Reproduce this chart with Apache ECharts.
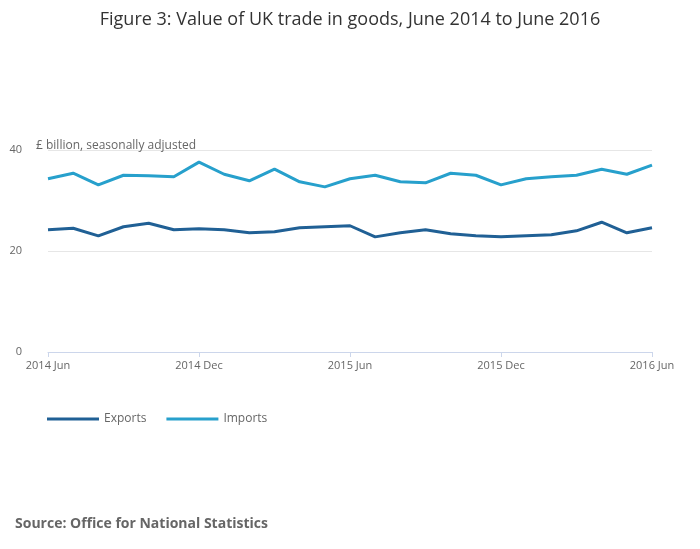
<!DOCTYPE html>
<html>
<head>
<meta charset="utf-8">
<script src="https://cdn.jsdelivr.net/npm/echarts@6/dist/echarts.min.js"></script>
<style>html,body{margin:0;background:#fff}#container{width:700px;height:549px}</style>
</head>
<body>
<div id="container"></div>
<script>
// months from June 2014 to June 2016
const months = ['2014 Jun','Jul','Aug','Sep','Oct','Nov','2014 Dec','Jan','Feb','Mar','Apr','May',
    '2015 Jun','Jul','Aug','Sep','Oct','Nov','2015 Dec','Jan','Feb','Mar','Apr','May','2016 Jun'];
const exportsData = [24.2,24.5,23.0,24.8,25.5,24.2,24.4,24.2,23.6,23.8,24.6,24.8,25.0,22.8,23.6,24.2,23.4,23.0,22.8,23.0,23.2,24.0,25.7,23.6,24.6];
const importsData = [34.3,35.4,33.1,35.0,34.9,34.7,37.6,35.2,33.9,36.2,33.7,32.7,34.3,35.0,33.7,33.5,35.4,35.0,33.1,34.3,34.7,35.0,36.2,35.2,37.0];

const chart = echarts.init(document.getElementById('container'));
const font = '"Open Sans", sans-serif';
chart.setOption({
    animation: false,
    textStyle: { fontFamily: font },
    title: [
        { text: 'Figure 3: Value of UK trade in goods, June 2014 to June 2016', left: 'center', top: 6,
          textStyle: { fontFamily: font, fontSize: 18, fontWeight: 'normal', color: '#333' } },
        { text: '£ billion, seasonally adjusted', left: 31, top: 135,
          textStyle: { fontFamily: font, fontSize: 12, fontWeight: 'normal', color: '#666' } },
        { text: 'Source: Office for National Statistics', left: 10, top: 512,
          textStyle: { fontFamily: font, fontSize: 14, fontWeight: 'bold', color: '#666' } }
    ],
    legend: {
        left: 42, top: 408, itemWidth: 52, itemHeight: 3, itemGap: 20,
        icon: 'rect',
        textStyle: { color: '#666', fontSize: 12 },
        data: ['Exports', 'Imports']
    },
    grid: { left: 48, right: 48, top: 150, height: 202 },
    xAxis: {
        type: 'category', data: months, boundaryGap: false,
        axisLine: { lineStyle: { color: '#ccd6eb' } },
        axisTick: { interval: 5, lineStyle: { color: '#ccd6eb' } },
        axisLabel: { interval: 5, color: '#666', fontSize: 11 }
    },
    yAxis: {
        type: 'value', min: 0, max: 40, interval: 20,
        axisLabel: { color: '#666', fontSize: 11, margin: 26 },
        splitLine: { lineStyle: { color: '#e6e6e6' } }
    },
    series: [
        { name: 'Exports', type: 'line', data: exportsData, symbol: 'none',
          itemStyle: { color: '#206095' }, lineStyle: { width: 3, color: '#206095' } },
        { name: 'Imports', type: 'line', data: importsData, symbol: 'none',
          itemStyle: { color: '#27a0cc' }, lineStyle: { width: 3, color: '#27a0cc' } }
    ]
});
</script>
</body>
</html>
